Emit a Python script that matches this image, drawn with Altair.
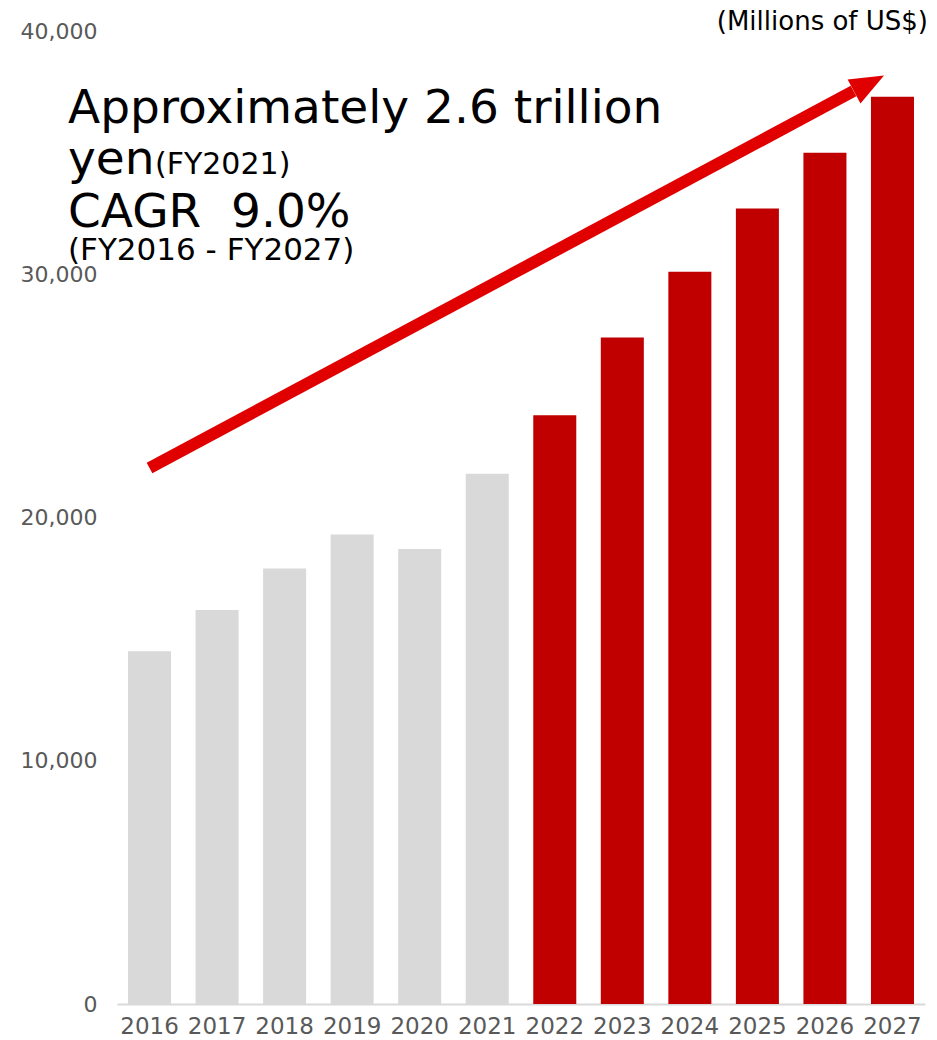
import altair as alt
import pandas as pd

years = ["2016", "2017", "2018", "2019", "2020", "2021",
         "2022", "2023", "2024", "2025", "2026", "2027"]
values = [14500, 16200, 17900, 19300, 18700, 21800,
          24200, 27400, 30100, 32700, 35000, 37300]
kinds = ["actual"] * 6 + ["forecast"] * 6
y_ticks = [0, 10000, 20000, 30000, 40000]

arrow_x = [2016.0, 2026.43]
arrow_y = [22035, 37530]
head_x = [2026.66]
head_y = [37840]

FONT = "DejaVu Sans"

df = pd.DataFrame({"year": years, "value": values, "kind": kinds})
arrow_df = pd.DataFrame({"ax": [arrow_x[0]], "ay": [arrow_y[0]],
                         "ax2": [arrow_x[1]], "ay2": [arrow_y[1]]})
head_df = pd.DataFrame({"hx": head_x, "hy": head_y})

yscale = alt.Scale(domain=[0, 40000], nice=False)
yaxis = alt.Axis(values=y_ticks, labelExpr="format(datum.value, ',')",
                 ticks=False, domain=False, grid=False,
                 labelColor="#595959", labelFontSize=22,
                 labelFont=FONT, labelPadding=20)

bars = alt.Chart(df).mark_bar().encode(
    x=alt.X("year:N", sort=years, title=None,
            scale=alt.Scale(paddingInner=0.363, paddingOuter=0.163),
            axis=alt.Axis(labelAngle=0, ticks=False, domainColor="#d9d9d9",
                          domainWidth=2, labelColor="#595959", labelFontSize=23,
                          labelFont=FONT, labelPadding=11, grid=False)),
    y=alt.Y("value:Q", scale=yscale, title=None, axis=yaxis),
    color=alt.Color("kind:N", legend=None,
                    scale=alt.Scale(domain=["actual", "forecast"],
                                    range=["#d9d9d9", "#c00000"])),
)

# quantitative x scale aligned with band centers: 2016 center at plot x=32.5, step 67.5
qx = alt.Scale(domain=[2016 - 32.5 / 67.5, 2016 + (808 - 32.5) / 67.5], nice=False, zero=False)

arrow = alt.Chart(arrow_df).mark_rule(color="#e00000", strokeWidth=12).encode(
    x=alt.X("ax:Q", scale=qx, axis=None),
    x2="ax2:Q",
    y=alt.Y("ay:Q", scale=yscale, title=None, axis=yaxis),
    y2="ay2:Q",
)

head = alt.Chart(head_df).mark_point(
    shape="M0,-1L0.8,1L-0.8,1Z", filled=True, color="#e00000",
    size=1156, angle=61.8, opacity=1, strokeWidth=0
).encode(
    x=alt.X("hx:Q", scale=qx, axis=None),
    y=alt.Y("hy:Q", scale=yscale, title=None, axis=yaxis),
)

def txt(s, x, y, size, align="left"):
    return alt.Chart(pd.DataFrame({"t": [s]})).mark_text(
        text=s, font=FONT, fontSize=size, color="black", align=align,
        baseline="alphabetic"
    ).encode(x=alt.value(x), y=alt.value(y))

texts = [
    txt("Approximately 2.6 trillion", -49, 92, 47),
    txt("yen", -49, 143, 47),
    txt("(FY2021)", 38, 143, 30),
    txt("CAGR\u00a0\u00a09.0%", -49, 196, 47),
    txt("(FY2016 - FY2027)", -49, 229, 31),
    txt("(Millions of US$)", 811, -1, 26, align="right"),
]

chart = alt.layer(bars, arrow, head, *texts).resolve_scale(
    x="independent"
).properties(
    width=808, height=973,
    autosize=alt.AutoSizeParams(type="none"),
    padding={"left": 109, "top": 23, "right": 4, "bottom": 36},
).configure_view(stroke=None)

chart.save("out.html", embed_options={"renderer": "svg", "actions": False})
